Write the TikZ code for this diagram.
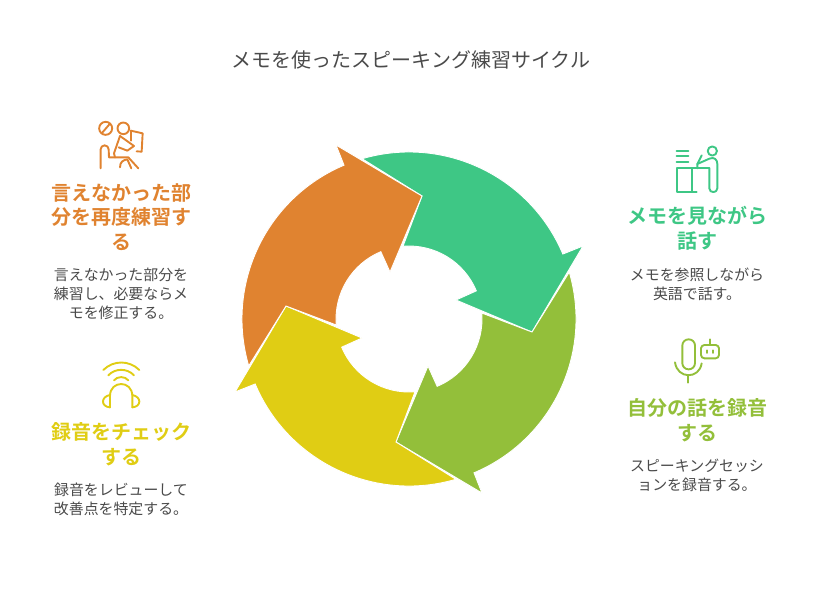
\documentclass[tikz,border=0pt]{standalone}
\usepackage{fontspec}
\usetikzlibrary{positioning}
\newfontfamily\jp[BoldFont={Noto Sans CJK JP Bold}]{Noto Sans CJK JP}
\definecolor{memogreen}{HTML}{3EC785}
\definecolor{memoolive}{HTML}{93BF3A}
\definecolor{memoyellow}{HTML}{E0CD14}
\definecolor{memoorange}{HTML}{E08330}
\definecolor{memotext}{HTML}{4A4A4A}
\tikzset{
  headtext/.style = {align=center, inner sep=0pt, font={\jp\bfseries\fontsize{20}{24.6}\selectfont}},
  bodytext/.style = {align=center, inner sep=0pt, text=memotext, font={\jp\fontsize{14.9}{18.9}\selectfont}},
  icon/.style = {line width=1.9pt, line cap=round, line join=round},
}
\begin{document}
\begin{tikzpicture}[x=1pt,y=-1pt]
\useasboundingbox (0,0) rectangle (818,590);

\node[text=memotext, inner sep=0pt, font={\jp\fontsize{20}{24}\selectfont}] (title) at (411,60) {メモを使ったスピーキング練習サイクル};

% ring of four arrows
\foreach \ang/\col in {0/memogreen,-90/memoolive,180/memoyellow,90/memoorange} {
  \begin{scope}[shift={(409,319)},y=1pt,rotate=\ang]
    \fill[\col, draw=white, line width=0.9pt, line join=miter]
      (106.3:167pt) arc[start angle=106.3, end angle=22.9, radius=167pt]
      -- (174,73) -- (123,-13) -- (47,19) -- (22.7:73pt)
      arc[start angle=22.7, end angle=94.7, radius=73pt]
      -- (13,123) -- cycle;
  \end{scope}
}

% texts
\node[headtext, text=memoorange] (orangehead) at (121,217) {言えなかった部\\分を再度練習す\\る};
\node[bodytext, below=17pt of orangehead] (orangebody) {言えなかった部分を\\練習し、必要ならメ\\モを修正する。};
\node[headtext, text=memoyellow] (yellowhead) at (121,444.5) {録音をチェック\\する};
\node[bodytext, below=17pt of yellowhead] (yellowbody) {録音をレビューして\\改善点を特定する。};
\node[headtext, text=memogreen] (greenhead) at (697,228.5) {メモを見ながら\\話す};
\node[bodytext, below=17pt of greenhead] (greenbody) {メモを参照しながら\\英語で話す。};
\node[headtext, text=memoolive] (olivehead) at (697,420) {自分の話を録音\\する};
\node[bodytext, below=17pt of olivehead] (olivebody) {スピーキングセッシ\\ョンを録音する。};

% icons
\begin{scope}[shift={(40,110)},x=0.3333pt,y=-0.3333pt,icon,draw=memoorange]
  \draw (197,55) circle[radius=6.5pt];
  \draw (185,70) -- (210,41);
  \draw (250,55) circle[radius=5.8pt];
  \draw (182,175) -- (182,118) arc[start angle=180, end angle=0, radius=4pt] -- (207,142) -- (225,142);
  \draw (240,78) -- (222,130) -- (225,142) -- (265,142) -- (295,175);
  \draw (240,78) -- (282,108) -- (262,122) -- (236,112);
  \draw (240,172) .. controls (240,155) and (250,150) .. (262,148) -- (274,175);
  \draw (272,62) -- (308,70) -- (305,125) -- (290,124);
  \draw (272,62) -- (272,92);
\end{scope}

\begin{scope}[shift={(40,350)},x=0.3333pt,y=-0.3333pt,icon,draw=memoyellow]
  \draw (190,60) .. controls (220,30) and (268,30) .. (298,60);
  \draw (205,76) .. controls (225,54) and (262,54) .. (282,76);
  \draw (222,91) .. controls (232,78) and (255,78) .. (265,91);
  \draw (210,172) -- (210,138) .. controls (210,90) and (277,90) .. (277,138) -- (277,172);
  \draw (210,135) .. controls (182,140) and (182,170) .. (210,172);
  \draw (277,135) .. controls (305,140) and (305,170) .. (277,172);
\end{scope}

\begin{scope}[shift={(620,140)},x=0.3333pt,y=-0.3333pt,icon,draw=memogreen]
  \draw (170,32) -- (205,32);
  \draw (170,48) -- (205,48);
  \draw (170,65) -- (205,65);
  \draw (230,155) -- (172,155) -- (172,85) -- (268,85);
  \draw (215,85) -- (215,155);
  \draw (277,33) circle[radius=4.6pt];
  \draw (245,46) -- (232,72) -- (232,85);
  \draw (232,72) -- (268,56) .. controls (282,50) and (292,58) .. (292,72) -- (292,145)
    .. controls (292,160) and (268,160) .. (268,145) -- (268,85);
\end{scope}

\begin{scope}[shift={(620,330)},x=0.3333pt,y=-0.3333pt,icon,draw=memoolive]
  \draw[rounded corners=6.2pt] (187,28) rectangle (225,118);
  \draw (165,97) .. controls (172,148) and (238,148) .. (245,100);
  \draw (205,135) -- (205,158);
  \draw[rounded corners=3.4pt] (243,45) rectangle (297,85);
  \draw (270,28) -- (270,45);
  \draw (260,61) -- (260,69);
  \draw (280,61) -- (280,69);
\end{scope}
\end{tikzpicture}
\end{document}
